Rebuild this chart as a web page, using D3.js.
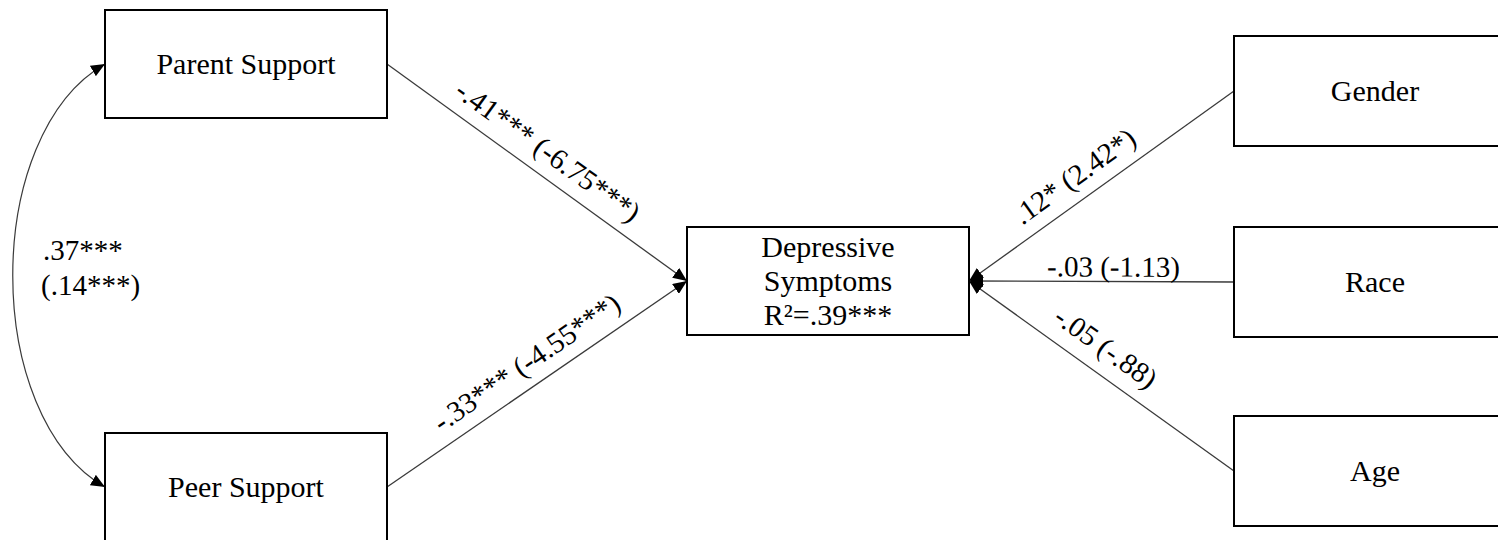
<!DOCTYPE html>
<html>
<head>
<meta charset="utf-8">
<script src="https://cdn.jsdelivr.net/npm/d3@7"></script>
<style>
  html, body { margin: 0; padding: 0; background: #fff; overflow: hidden; }
  svg { display: block; }
  text { font-family: "Liberation Serif", "Times New Roman", serif; fill: #000; }
</style>
</head>
<body>
<svg id="chart" width="1498" height="540"></svg>
<script>
// Node labels
const predictors = ['Parent Support', 'Peer Support'];
const covariates = ['Gender', 'Race', 'Age'];
const outcomeLines = ['Depressive', 'Symptoms', 'R²=.39***'];

// Path coefficients: standardized (unstandardized)
const predictorCoefs = ['-.41*** (-6.75***)', '-.33*** (-4.55***)'];
const covariateCoefs = ['.12* (2.42*)', '-.03 (-1.13)', '-.05 (-.88)'];
const correlationLines = ['.37***', '(.14***)'];

// Layout (pixels)
const BOX_W = 282;
const layout = {
  left: { x: 105, y: [10, 433], h: 108 },
  mid: { x: 687, y: 227, h: 108 },
  right: { x: 1234, y: [36, 227, 416], h: 110 }
};
// where each label sits along its path (fraction from left end) and how far above it
const predLabelPos = [{ t: 0.49, off: 14 }, { t: 0.51, off: 14 }];
const covLabelPos = [{ t: 0.45, off: 14 }, { t: 0.545, off: 5 }, { t: 0.46, off: 16 }];

const NODE_FONT = 30;
const EDGE_FONT = 29;
const LINE_COLOR = '#3a3a3a';

const svg = d3.select('#chart');

// arrowhead
const defs = svg.append('defs');
defs.append('marker')
  .attr('id', 'arrow')
  .attr('markerUnits', 'userSpaceOnUse')
  .attr('viewBox', '0 0 14 12')
  .attr('markerWidth', 14)
  .attr('markerHeight', 12)
  .attr('refX', 14)
  .attr('refY', 6)
  .attr('orient', 'auto-start-reverse')
  .append('path')
  .attr('d', 'M0,0 L14,6 L0,12 Z')
  .attr('fill', '#000');

// Build node boxes
const nodes = [];
predictors.forEach((name, i) => nodes.push({
  lines: [name], x: layout.left.x, y: layout.left.y[i], w: BOX_W, h: layout.left.h
}));
const outcomeNode = { lines: outcomeLines, x: layout.mid.x, y: layout.mid.y, w: BOX_W, h: layout.mid.h };
nodes.push(outcomeNode);
covariates.forEach((name, i) => nodes.push({
  lines: [name], x: layout.right.x, y: layout.right.y[i], w: BOX_W, h: layout.right.h
}));

const midY = (n) => n.y + n.h / 2;

// Edges
const edges = [];
predictors.forEach((_, i) => {
  const n = nodes[i];
  edges.push({
    x1: n.x + n.w, y1: midY(n),
    x2: outcomeNode.x, y2: midY(outcomeNode),
    label: predictorCoefs[i], pos: predLabelPos[i]
  });
});
covariates.forEach((_, i) => {
  const n = nodes[3 + i];
  edges.push({
    x1: n.x, y1: midY(n),
    x2: outcomeNode.x + outcomeNode.w, y2: midY(outcomeNode),
    label: covariateCoefs[i], pos: covLabelPos[i]
  });
});

const line = d3.line();

const edgeG = svg.append('g');
edgeG.selectAll('path')
  .data(edges)
  .join('path')
  .attr('d', (d) => line([[d.x1, d.y1], [d.x2, d.y2]]))
  .attr('fill', 'none')
  .attr('stroke', LINE_COLOR)
  .attr('stroke-width', 1.3)
  .attr('marker-end', 'url(#arrow)');

// edge labels, reading left to right
edgeG.selectAll('text')
  .data(edges)
  .join('text')
  .attr('transform', (d) => {
    let ax = d.x1, ay = d.y1, bx = d.x2, by = d.y2;
    if (bx < ax) { [ax, bx] = [bx, ax]; [ay, by] = [by, ay]; }
    const len = Math.hypot(bx - ax, by - ay);
    const ux = (bx - ax) / len, uy = (by - ay) / len;
    const px = ax + ux * len * d.pos.t + uy * d.pos.off;
    const py = ay + uy * len * d.pos.t - ux * d.pos.off;
    const ang = Math.atan2(uy, ux) * 180 / Math.PI;
    return `translate(${px},${py}) rotate(${ang})`;
  })
  .attr('text-anchor', 'middle')
  .attr('font-size', EDGE_FONT)
  .text((d) => d.label);

// Correlation between the two predictors
const pA = nodes[0], pB = nodes[1];
const corr = d3.path();
corr.moveTo(pA.x, midY(pA));
corr.bezierCurveTo(-18, 135, -18, 416, pB.x, midY(pB));
svg.append('path')
  .attr('d', corr.toString())
  .attr('fill', 'none')
  .attr('stroke', LINE_COLOR)
  .attr('stroke-width', 1.2)
  .attr('marker-start', 'url(#arrow)')
  .attr('marker-end', 'url(#arrow)');

svg.append('g')
  .selectAll('text')
  .data(correlationLines)
  .join('text')
  .attr('x', (d, i) => (i === 0 ? 43 : 41))
  .attr('y', (d, i) => 260 + i * 35)
  .attr('font-size', EDGE_FONT)
  .text((d) => d);

// Boxes on top
const nodeG = svg.append('g')
  .selectAll('g')
  .data(nodes)
  .join('g');

nodeG.append('rect')
  .attr('x', (d) => d.x)
  .attr('y', (d) => d.y)
  .attr('width', (d) => d.w)
  .attr('height', (d) => d.h)
  .attr('fill', '#fff')
  .attr('stroke', '#000')
  .attr('stroke-width', 2);

nodeG.each(function (d) {
  const lh = 34;
  const first = midY(d) + 10 - (d.lines.length - 1) * lh / 2;
  d3.select(this).selectAll('text')
    .data(d.lines)
    .join('text')
    .attr('x', d.x + d.w / 2)
    .attr('y', (t, i) => first + i * lh)
    .attr('text-anchor', 'middle')
    .attr('font-size', NODE_FONT)
    .text((t) => t);
});
</script>
</body>
</html>
